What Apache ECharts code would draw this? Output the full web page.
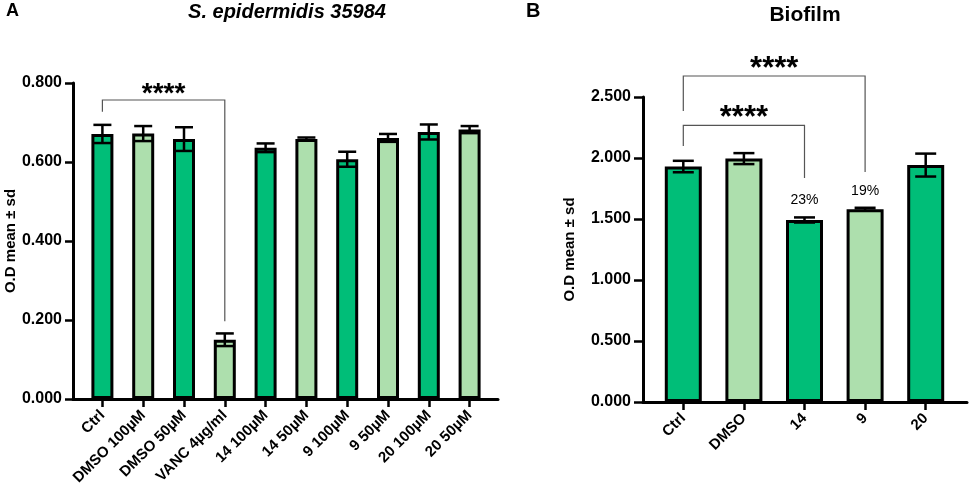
<!DOCTYPE html>
<html>
<head>
<meta charset="utf-8">
<script src="https://cdn.jsdelivr.net/npm/echarts@6/dist/echarts.min.js"></script>
<style>
html, body { margin: 0; padding: 0; background: #fff; }
#main { width: 969px; height: 494px; }
</style>
</head>
<body>
<div id="main"></div>
<script>
// panel A: S. epidermidis 35984
var catsA = ['Ctrl', 'DMSO 100µM', 'DMSO 50µM', 'VANC 4µg/ml', '14 100µM', '14 50µM', '9 100µM', '9 50µM', '20 100µM', '20 50µM'];
var meanA = [0.671, 0.672, 0.658, 0.150, 0.636, 0.658, 0.607, 0.661, 0.676, 0.682];
var sdA = [0.023, 0.019, 0.030, 0.016, 0.011, 0.004, 0.019, 0.010, 0.019, 0.009];
var yTicksA = [0, 0.2, 0.4, 0.6, 0.8];
// [from, to, level, left end, right end]
var bracketsA = [[0, 3, 0.757, 0.727, 0.197]];
var starsA = ['****'];

// panel B: Biofilm
var catsB = ['Ctrl', 'DMSO', '14', '9', '20'];
var meanB = [1.930, 1.995, 1.492, 1.580, 1.942];
var sdB = [0.047, 0.045, 0.021, 0.012, 0.094];
var pctB = ['', '', '23%', '19%', ''];
var yTicksB = [0, 0.5, 1.0, 1.5, 2.0, 2.5];
var bracketsB = [[0, 2, 2.268, 2.098, 1.836], [0, 3, 2.672, 2.385, 1.885]];
var starsB = ['****', '****'];

var FONT = 'Liberation Sans, Arial, Helvetica, sans-serif';
var DARK = '#00BE78';
var LIGHT = '#ADDFAD';

function outerX(grid) {
    return {
        type: 'value', gridIndex: grid, min: 0, max: 1,
        axisLine: { show: true, lineStyle: { color: '#000', width: 3 } },
        axisTick: { show: false }, axisLabel: { show: false }, splitLine: { show: false }
    };
}

function innerX(grid, cats, fontSize, margin) {
    return {
        type: 'category', gridIndex: grid, data: cats,
        axisLine: { show: false },
        axisTick: { show: true, alignWithLabel: true, length: 8, lineStyle: { color: '#000', width: 2.5 } },
        axisLabel: { rotate: 45, margin: margin, interval: 0, color: '#000', fontWeight: 'bold', fontSize: fontSize, fontFamily: FONT }
    };
}

function outerY(grid, ticks, nameGap, nameSize, labelSize, tickLen) {
    return {
        type: 'value', gridIndex: grid,
        min: ticks[0], max: ticks[ticks.length - 1], interval: ticks[1] - ticks[0],
        name: 'O.D mean ± sd', nameLocation: 'middle', nameGap: nameGap,
        nameTextStyle: { color: '#000', fontWeight: 'bold', fontSize: nameSize, fontFamily: FONT },
        axisLine: { show: true, lineStyle: { color: '#000', width: 3 } },
        axisTick: { show: true, length: tickLen, lineStyle: { color: '#000', width: 2.5 } },
        axisLabel: {
            margin: tickLen + 3, color: '#000', fontWeight: 'bold', fontSize: labelSize, fontFamily: FONT,
            formatter: function (v) { return v.toFixed(3); }
        },
        splitLine: { show: false }
    };
}

function innerY(grid, ticks) {
    return { type: 'value', gridIndex: grid, show: false, min: ticks[0], max: ticks[ticks.length - 1] };
}

function barSeries(axis, means, barWidth) {
    return {
        type: 'bar', xAxisIndex: axis, yAxisIndex: axis, data: means, barWidth: barWidth,
        itemStyle: {
            color: function (p) { return p.dataIndex % 2 === 0 ? DARK : LIGHT; },
            borderColor: '#000', borderWidth: 3
        },
        silent: true
    };
}

function errorSeries(axis, means, sds, capHalf) {
    return {
        type: 'custom', xAxisIndex: axis, yAxisIndex: axis, z: 10, clip: false, silent: true,
        data: means.map(function (m, i) { return [i, m, sds[i]]; }),
        renderItem: function (params, api) {
            var x = api.value(0), m = api.value(1), s = api.value(2);
            var hi = api.coord([x, m + s]);
            var lo = api.coord([x, m - s]);
            var st = { stroke: '#000', lineWidth: 2.5 };
            return {
                type: 'group', children: [
                    { type: 'line', shape: { x1: hi[0], y1: hi[1], x2: lo[0], y2: lo[1] }, style: st },
                    { type: 'line', shape: { x1: hi[0] - capHalf, y1: hi[1], x2: hi[0] + capHalf, y2: hi[1] }, style: st },
                    { type: 'line', shape: { x1: lo[0] - capHalf, y1: lo[1], x2: lo[0] + capHalf, y2: lo[1] }, style: st }
                ]
            };
        }
    };
}

function bracketSeries(axis, brackets, stars, starSize, starLift) {
    return {
        type: 'custom', xAxisIndex: axis, yAxisIndex: axis, z: 11, clip: false, silent: true,
        data: brackets,
        renderItem: function (params, api) {
            var a = api.value(0), b = api.value(1), lv = api.value(2);
            var p1 = api.coord([a, api.value(3)]);
            var p2 = api.coord([a, lv]);
            var p3 = api.coord([b, lv]);
            var p4 = api.coord([b, api.value(4)]);
            return {
                type: 'group', children: [
                    { type: 'polyline', shape: { points: [p1, p2, p3, p4] }, style: { stroke: '#555', lineWidth: 1.2, fill: null } },
                    {
                        type: 'text', x: (p2[0] + p3[0]) / 2, y: p2[1] - starLift,
                        style: {
                            text: stars[params.dataIndex], fill: '#000', textAlign: 'center', textVerticalAlign: 'middle',
                            fontSize: starSize, fontWeight: 'bold', fontFamily: FONT
                        }
                    }
                ]
            };
        }
    };
}

function pctSeries(axis, means, sds, labels) {
    return {
        type: 'custom', xAxisIndex: axis, yAxisIndex: axis, z: 11, clip: false, silent: true,
        data: means.map(function (m, i) { return [i, m + sds[i]]; }),
        renderItem: function (params, api) {
            var p = api.coord([api.value(0), api.value(1)]);
            return {
                type: 'text', x: p[0], y: p[1] - 17,
                style: {
                    text: labels[params.dataIndex], fill: '#000', textAlign: 'center', textVerticalAlign: 'middle',
                    fontSize: 14, fontFamily: FONT
                }
            };
        }
    };
}

var chart = echarts.init(document.getElementById('main'));
var option = {
    animation: false,
    backgroundColor: '#fff',
    graphic: [
        { type: 'text', x: 6, y: 11, style: { text: 'A', textVerticalAlign: 'middle', fill: '#000', font: 'bold 18px ' + FONT } },
        { type: 'text', x: 287, y: 12, style: { text: 'S. epidermidis 35984', textAlign: 'center', textVerticalAlign: 'middle', fill: '#000', font: 'italic bold 20px ' + FONT } },
        { type: 'text', x: 526, y: 11, style: { text: 'B', textVerticalAlign: 'middle', fill: '#000', font: 'bold 20px ' + FONT } },
        { type: 'text', x: 805, y: 15, style: { text: 'Biofilm', textAlign: 'center', textVerticalAlign: 'middle', fill: '#000', font: 'bold 21px ' + FONT } }
    ],
    grid: [
        { left: 73, right: 471, top: 83, bottom: 95 },
        { left: 82, right: 479, top: 83, bottom: 95 },
        { left: 643, right: 2, top: 97, bottom: 92 },
        { left: 653, right: 13, top: 97, bottom: 92 }
    ],
    xAxis: [outerX(0), innerX(1, catsA, 15, 14), outerX(2), innerX(3, catsB, 15, 14)],
    yAxis: [outerY(0, yTicksA, 53, 15, 16, 8), innerY(1, yTicksA), outerY(2, yTicksB, 66, 15, 16, 9), innerY(3, yTicksB)],
    series: [
        barSeries(1, meanA, 22),
        errorSeries(1, meanA, sdA, 9),
        bracketSeries(1, bracketsA, starsA, 28, 6),
        barSeries(3, meanB, 37),
        errorSeries(3, meanB, sdB, 10.5),
        bracketSeries(3, bracketsB, starsB, 31, 7),
        pctSeries(3, meanB, sdB, pctB)
    ]
};
chart.setOption(option);
</script>
</body>
</html>
